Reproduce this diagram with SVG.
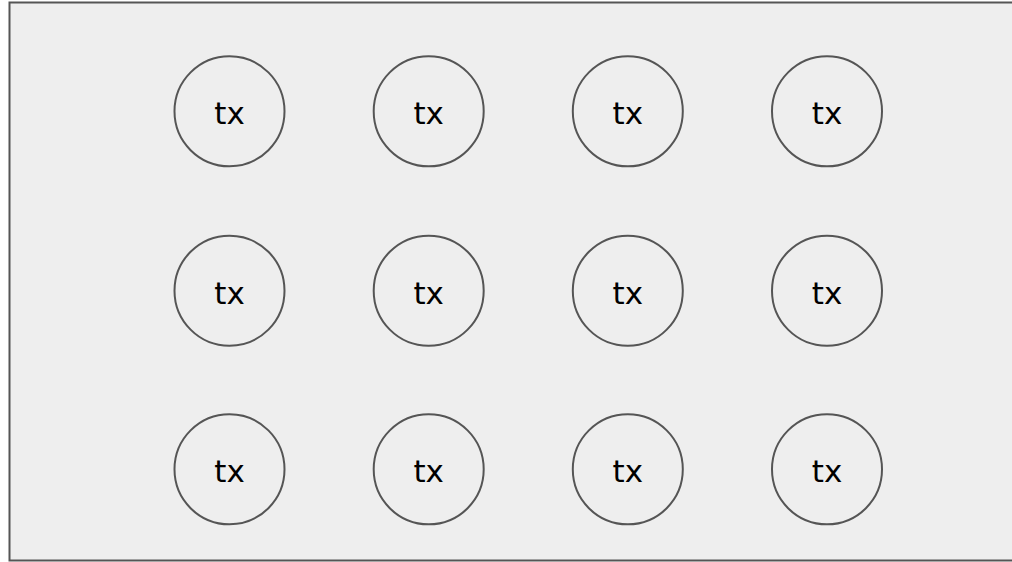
<svg xmlns="http://www.w3.org/2000/svg" width="1012" height="562" viewBox="0 0 1012 562">
<style>
.bg{fill:#eeeeee;stroke:#555555;stroke-width:2}
.n circle{fill:#eeeeee;stroke:#555555;stroke-width:2}
.n text{font-family:"DejaVu Sans",sans-serif;font-size:31px;fill:#000;text-anchor:middle}
</style>
<rect class="bg" x="9.5" y="2.5" width="1010" height="558"/>
<g id="connectors"/>
<g id="n1" class="n"><circle cx="229.5" cy="111.3" r="55"/><text x="229.5" y="124.3">tx</text></g>
<g id="n2" class="n"><circle cx="428.7" cy="111.3" r="55"/><text x="428.7" y="124.3">tx</text></g>
<g id="n3" class="n"><circle cx="627.8" cy="111.3" r="55"/><text x="627.8" y="124.3">tx</text></g>
<g id="n4" class="n"><circle cx="827" cy="111.3" r="55"/><text x="827" y="124.3">tx</text></g>
<g id="n5" class="n"><circle cx="229.5" cy="290.7" r="55"/><text x="229.5" y="303.7">tx</text></g>
<g id="n6" class="n"><circle cx="428.7" cy="290.7" r="55"/><text x="428.7" y="303.7">tx</text></g>
<g id="n7" class="n"><circle cx="627.8" cy="290.7" r="55"/><text x="627.8" y="303.7">tx</text></g>
<g id="n8" class="n"><circle cx="827" cy="290.7" r="55"/><text x="827" y="303.7">tx</text></g>
<g id="n9" class="n"><circle cx="229.5" cy="469.3" r="55"/><text x="229.5" y="482.3">tx</text></g>
<g id="n10" class="n"><circle cx="428.7" cy="469.3" r="55"/><text x="428.7" y="482.3">tx</text></g>
<g id="n11" class="n"><circle cx="627.8" cy="469.3" r="55"/><text x="627.8" y="482.3">tx</text></g>
<g id="n12" class="n"><circle cx="827" cy="469.3" r="55"/><text x="827" y="482.3">tx</text></g>
</svg>
